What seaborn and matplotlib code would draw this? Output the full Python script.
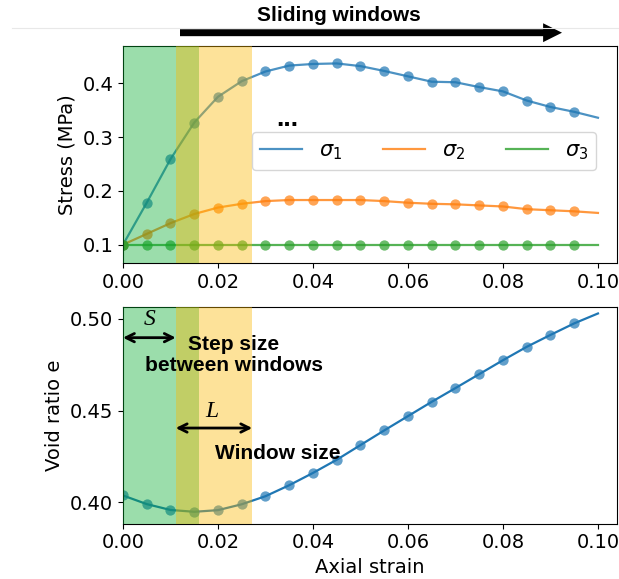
import matplotlib
matplotlib.use("Agg")
import matplotlib.pyplot as plt
from matplotlib.lines import Line2D
import seaborn as sns
import pandas as pd

# axial strain sampled every 0.005, line runs to 0.1, dots stop at 0.095
strain = [0.000, 0.005, 0.010, 0.015, 0.020, 0.025, 0.030, 0.035, 0.040, 0.045, 0.050,
          0.055, 0.060, 0.065, 0.070, 0.075, 0.080, 0.085, 0.090, 0.095, 0.100]
sigma1 = [0.100, 0.178, 0.259, 0.327, 0.375, 0.404, 0.422, 0.433, 0.436, 0.437, 0.432,
          0.423, 0.413, 0.403, 0.402, 0.393, 0.385, 0.368, 0.356, 0.347, 0.336]
sigma2 = [0.100, 0.120, 0.140, 0.157, 0.169, 0.176, 0.181, 0.183, 0.183, 0.183, 0.183,
          0.181, 0.178, 0.176, 0.175, 0.173, 0.171, 0.166, 0.164, 0.162, 0.159]
sigma3 = [0.100, 0.100, 0.100, 0.100, 0.100, 0.100, 0.100, 0.100, 0.100, 0.100, 0.100,
          0.100, 0.100, 0.100, 0.100, 0.100, 0.100, 0.100, 0.100, 0.100, 0.100]
void_ratio = [0.4037, 0.3990, 0.3958, 0.3948, 0.3957, 0.3989, 0.4033, 0.4093, 0.4160, 0.4232, 0.4312,
              0.4392, 0.4470, 0.4548, 0.4623, 0.4699, 0.4775, 0.4848, 0.4913, 0.4976, 0.5030]

series_labels = [r"$\sigma_1$", r"$\sigma_2$", r"$\sigma_3$"]
series_colors = ["#1f77b4", "#ff7f0e", "#2ca02c"]

step_span = [0.0, 0.0160]      # first window (green)
window_span = [0.0111, 0.0272]  # second window (yellow)

df = pd.DataFrame({"strain": strain, "s1": sigma1, "s2": sigma2, "s3": sigma3, "e": void_ratio})
pts = df.iloc[:-1]

fig = plt.figure(figsize=(6.19, 5.79), dpi=100)
ax1 = fig.add_axes([0.1987, 0.5453, 0.798, 0.3758])
ax2 = fig.add_axes([0.1987, 0.0955, 0.798, 0.3748])

bold = dict(family="Liberation Sans", weight="bold", fontsize=15, zorder=6)

# ---- top: stresses
for col, lab, c in zip(["s1", "s2", "s3"], series_labels, series_colors):
    sns.lineplot(data=df, x="strain", y=col, color=c, lw=1.6, alpha=0.8, label=lab, ax=ax1)
    sns.scatterplot(data=pts, x="strain", y=col, color=c, s=55, alpha=0.7, linewidth=0,
                    legend=False, ax=ax1, zorder=2.2)

ax1.legend(loc="upper left", bbox_to_anchor=(0.261, 0.603), borderaxespad=0, ncol=3,
           fontsize=15)
ax1.set_xlim(0, 0.104)
ax1.set_ylim(0.0654, 0.470)
ax1.set_xticks([0.0, 0.02, 0.04, 0.06, 0.08, 0.10])
ax1.set_yticks([0.1, 0.2, 0.3, 0.4])
ax1.set_xlabel("")
ax1.set_ylabel("Stress (MPa)", fontsize=14)
ax1.text(0.0345, 0.334, "...", ha="center", va="center", family="Liberation Sans",
         weight="bold", fontsize=19, zorder=6)

# ---- bottom: void ratio
sns.lineplot(data=df, x="strain", y="e", color=series_colors[0], lw=1.6, ax=ax2)
sns.scatterplot(data=pts, x="strain", y="e", color=series_colors[0], s=55, alpha=0.7,
                linewidth=0, legend=False, ax=ax2, zorder=2.2)
ax2.set_xlim(0, 0.104)
ax2.set_ylim(0.3883, 0.5067)
ax2.set_xticks([0.0, 0.02, 0.04, 0.06, 0.08, 0.10])
ax2.set_yticks([0.40, 0.45, 0.50])
ax2.set_xlabel("Axial strain", fontsize=14)
ax2.set_ylabel("Void ratio e", fontsize=14)

for ax in (ax1, ax2):
    ax.axvspan(*step_span, color="#05ac2f", alpha=0.4, lw=0, zorder=3)
    ax.axvspan(*window_span, color="#fbb800", alpha=0.4, lw=0, zorder=3)
    ax.tick_params(labelsize=14)

arr = dict(arrowstyle="<->", lw=2, color="k", shrinkA=0, shrinkB=0, mutation_scale=15)
ax2.annotate("", xy=(step_span[0], 0.4898), xytext=(window_span[0], 0.4898),
             arrowprops=arr, zorder=6)
ax2.annotate("", xy=(window_span[0], 0.4405), xytext=(window_span[1], 0.4405),
             arrowprops=arr, zorder=6)
ax2.text(0.0057, 0.4998, "S", ha="center", va="center", family="Liberation Serif",
         style="italic", fontsize=17, zorder=6)
ax2.text(0.0188, 0.4493, "L", ha="center", va="center", family="Liberation Serif",
         style="italic", fontsize=17, zorder=6)
ax2.text(0.0233, 0.4802, "Step size\nbetween windows", ha="center", va="center",
         linespacing=1.15, **bold)
ax2.text(0.0326, 0.4266, "Window size", ha="center", va="center", **bold)

# ---- header arrow
fig.add_artist(Line2D([12 / 619, 1.0], [1 - 28 / 579] * 2, color="#e8e8e8", lw=0.8))
fig.text(339 / 619, 1 - 15.7 / 579, "Sliding windows", ha="center", va="center",
         family="Liberation Sans", weight="bold", fontsize=15)
ax1.annotate("", xy=(562 / 619, 1 - 32.7 / 579), xytext=(180 / 619, 1 - 32.7 / 579),
             xycoords="figure fraction", textcoords="figure fraction",
             arrowprops=dict(arrowstyle="simple,head_width=0.68,head_length=0.68,tail_width=0.25",
                             mutation_scale=20, color="k", lw=0, shrinkA=0, shrinkB=0))

fig.savefig("out.png", dpi=100)
